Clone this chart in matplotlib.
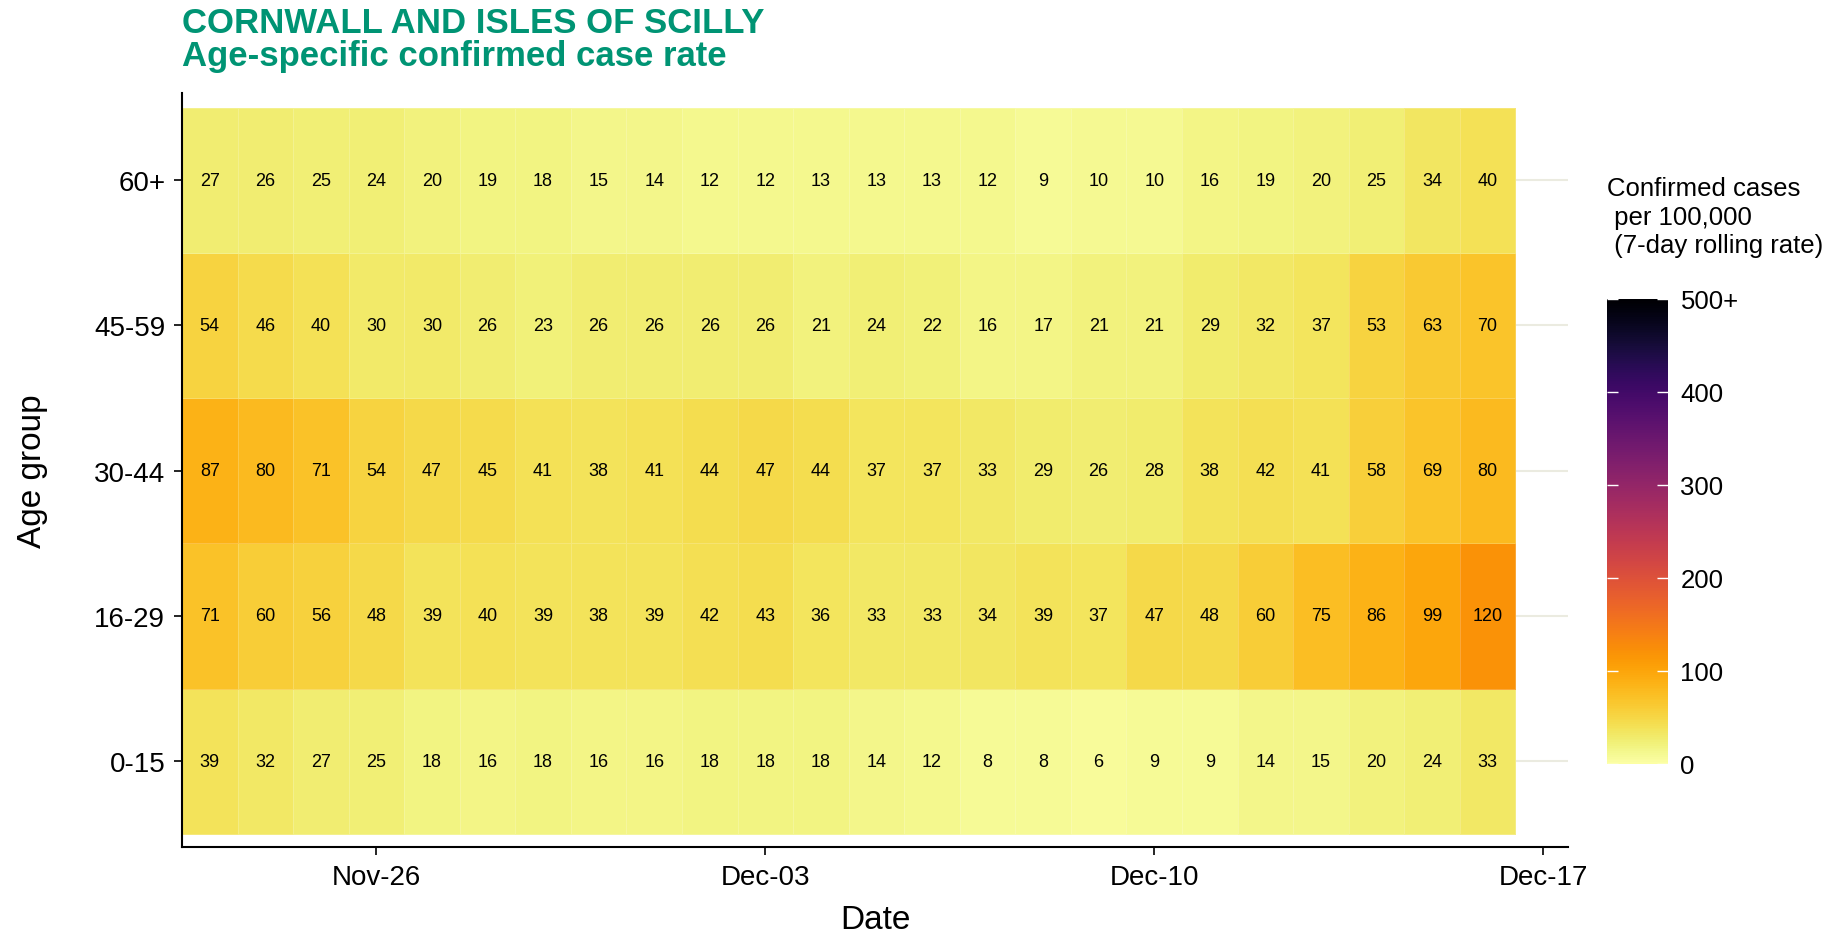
import numpy as np
import pandas as pd
import matplotlib
matplotlib.use("Agg")
from matplotlib import pyplot as plt
import matplotlib.dates as mdates
from matplotlib.colors import Normalize

plt.rcParams['font.family'] = ['Liberation Sans', 'DejaVu Sans']

# data
dates = pd.date_range("2020-11-23", "2020-12-16", freq="D")
age_groups = ["0-15", "16-29", "30-44", "45-59", "60+"]
rate_0_15 = [39, 32, 27, 25, 18, 16, 18, 16, 16, 18, 18, 18, 14, 12, 8, 8, 6, 9, 9, 14, 15, 20, 24, 33]
rate_16_29 = [71, 60, 56, 48, 39, 40, 39, 38, 39, 42, 43, 36, 33, 33, 34, 39, 37, 47, 48, 60, 75, 86, 99, 120]
rate_30_44 = [87, 80, 71, 54, 47, 45, 41, 38, 41, 44, 47, 44, 37, 37, 33, 29, 26, 28, 38, 42, 41, 58, 69, 80]
rate_45_59 = [54, 46, 40, 30, 30, 26, 23, 26, 26, 26, 26, 21, 24, 22, 16, 17, 21, 21, 29, 32, 37, 53, 63, 70]
rate_60 = [27, 26, 25, 24, 20, 19, 18, 15, 14, 12, 12, 13, 13, 13, 12, 9, 10, 10, 16, 19, 20, 25, 34, 40]
cbar_ticks = [0, 100, 200, 300, 400, 500]
cbar_labels = ["0", "100", "200", "300", "400", "500+"]

rates = np.array([rate_0_15, rate_16_29, rate_30_44, rate_45_59, rate_60])

fig = plt.figure(figsize=(18.42, 9.37), dpi=100)
ax = fig.add_axes([0.0988, 0.0950, 0.7525, 0.8047])

xnum = mdates.date2num(dates)
xedges = np.append(xnum - 0.5, xnum[-1] + 0.5)
yedges = np.arange(len(age_groups) + 1) - 0.5
norm = Normalize(0, 500)

# grid lines behind tiles
for i in range(len(age_groups)):
    ax.axhline(i, color='#ebebe0', lw=1.5, zorder=0)

mesh = ax.pcolormesh(xedges, yedges, rates, cmap='inferno_r', norm=norm,
                     edgecolors=(1, 1, 1, 0.2), linewidth=0.6, zorder=1)

for i in range(len(age_groups)):
    for j in range(len(dates)):
        ax.text(xnum[j], i, str(rates[i, j]), ha='center', va='center',
                fontsize=13, color='black', zorder=3)

ax.set_xlim(xnum[0] - 0.5, xnum[0] + 24.45)
ax.set_ylim(-0.59, 4.6)
ax.set_yticks(range(len(age_groups)))
ax.set_yticklabels(age_groups)
tick_dates = pd.to_datetime(["2020-11-26", "2020-12-03", "2020-12-10", "2020-12-17"])
ax.set_xticks(mdates.date2num(tick_dates))
ax.set_xticklabels([d.strftime("%b-%d") for d in tick_dates])
ax.tick_params(labelsize=20, length=6, width=1.2, color='black', pad=6)

for s in ['top', 'right']:
    ax.spines[s].set_visible(False)
for s in ['left', 'bottom']:
    ax.spines[s].set_linewidth(1.5)

ax.set_xlabel("Date", fontsize=24)
ax.set_ylabel("Age group", fontsize=24)
ax.xaxis.set_label_coords(0.5, -0.076)
ax.yaxis.set_label_coords(-0.097, 0.5)

fig.text(0.0988, 1 - 7 / 937, "CORNWALL AND ISLES OF SCILLY\nAge-specific confirmed case rate",
         color='#009474', fontsize=25, fontweight='bold', va='top', ha='left', linespacing=1.0)

# colour bar
cax = fig.add_axes([0.8724, 0.1836, 0.0331, 0.4963])
cb = fig.colorbar(plt.cm.ScalarMappable(norm=norm, cmap='inferno_r'), cax=cax)
cb.outline.set_visible(False)
cb.set_ticks(cbar_ticks)
cb.set_ticklabels(cbar_labels)
cax.tick_params(direction='in', length=8, width=1, color='white', left=True, right=True,
                labelsize=18.5, pad=9)
fig.text(0.8724, 1 - 177 / 937, "Confirmed cases\n per 100,000\n (7-day rolling rate)",
         fontsize=18.5, va='top', ha='left', linespacing=1.25)

fig.savefig("out.png", dpi=100, facecolor='white')
